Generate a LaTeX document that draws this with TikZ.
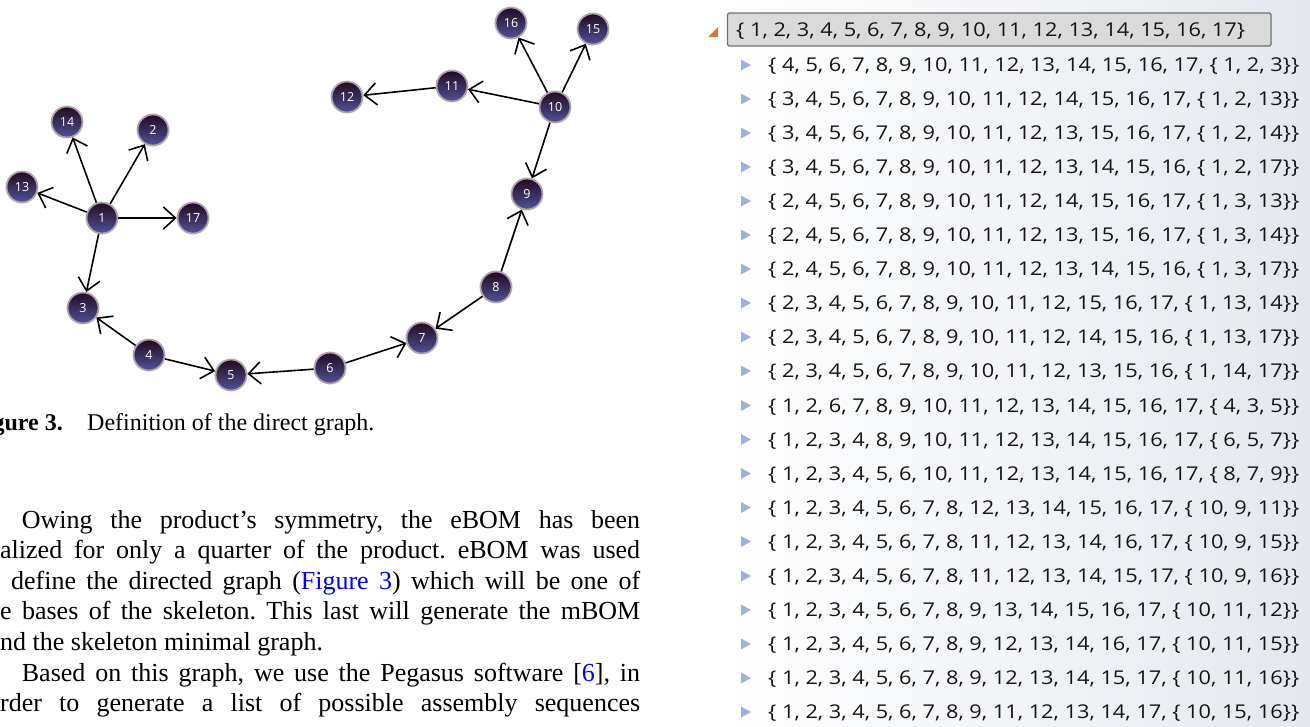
\documentclass[tikz,border=0pt]{standalone}
\usepackage{fontspec}
\setmainfont{Liberation Serif}
\newfontfamily\listfont[FakeStretch=1.145]{Open Sans}
\newfontfamily\nodefont{Open Sans}
\usepackage{tikz}
\usetikzlibrary{arrows.meta,positioning}
\frenchspacing
\definecolor{parttop}{RGB}{34,10,32}
\definecolor{partbot}{RGB}{80,82,152}
\definecolor{partrim}{RGB}{178,164,174}
\definecolor{linkblue}{RGB}{0,0,238}
\definecolor{panelbg}{RGB}{228,232,238}
\definecolor{headfill}{RGB}{218,218,218}
\definecolor{headrim}{RGB}{112,112,112}
\definecolor{rowmark}{RGB}{160,178,220}
\definecolor{openmark}{RGB}{204,120,66}
\definecolor{rowink}{RGB}{20,20,20}
\tikzstyle{part} = [circle,minimum size=31pt,inner sep=0pt,line width=1.8pt,draw=partrim,
  top color=parttop,bottom color=partbot,text=white,font=\nodefont\fontsize{12.5}{12.5}\selectfont]
\tikzstyle{link} = [line width=1.6pt,-{Straight Barb[length=12pt,width=22pt]}]
\tikzstyle{body} = [anchor=base west,inner sep=0pt,font=\fontsize{26}{30}\selectfont]
\tikzstyle{rowtext} = [anchor=base west,inner sep=0pt,text=rowink,font=\listfont\fontsize{19}{19}\selectfont]
\newcommand{\ListRow}[3]% #1=name, #2=row centre y, #3=text
{\fill[rowmark] (741,#2-5.5) -- (751,#2) -- (741,#2+5.5) -- cycle;
 \node[rowtext] (#1) at (768,#2+6.8) {#3};
}

\begin{document}
\begin{tikzpicture}[x=1pt,y=-1pt]

    \useasboundingbox (0,0) rectangle (1310,726);

    % tree panel
    \shade[left color=white,right color=panelbg] (722,0) rectangle (1310,726);

    % the directed graph
    \node[part] (n1) at (102,218) {1};
    \node[part] (n2) at (153,130) {2};
    \node[part] (n3) at (83,308) {3};
    \node[part] (n4) at (149,355) {4};
    \node[part] (n5) at (231,375) {5};
    \node[part] (n6) at (330,368) {6};
    \node[part] (n7) at (422,338) {7};
    \node[part] (n8) at (496,287) {8};
    \node[part] (n9) at (527,194) {9};
    \node[part] (n10) at (555,107) {10};
    \node[part] (n11) at (452,86) {11};
    \node[part] (n12) at (347,97) {12};
    \node[part] (n13) at (22,187) {13};
    \node[part] (n14) at (67,122) {14};
    \node[part] (n15) at (593,29) {15};
    \node[part] (n16) at (511,23) {16};
    \node[part] (n17) at (193,218) {17};

    \draw[link] (n1) -- (n14);
    \draw[link] (n1) -- (n2);
    \draw[link] (n1) -- (n13);
    \draw[link] (n1) -- (n17);
    \draw[link] (n1) -- (n3);
    \draw[link] (n4) -- (n3);
    \draw[link] (n4) -- (n5);
    \draw[link] (n6) -- (n5);
    \draw[link] (n6) -- (n7);
    \draw[link] (n8) -- (n7);
    \draw[link] (n8) -- (n9);
    \draw[link] (n10) -- (n9);
    \draw[link] (n10) -- (n11);
    \draw[link] (n11) -- (n12);
    \draw[link] (n10) -- (n16);
    \draw[link] (n10) -- (n15);

    % caption and text
    \node[anchor=base east,inner sep=0pt,font=\fontsize{24}{28}\selectfont\bfseries] (capno) at (63,430) {igure 3.};
    \node[anchor=base west,inner sep=0pt,font=\fontsize{24}{28}\selectfont] (cap) at (87,430) {Definition of the direct graph.};

    \node[body] (p1) at (21.7,528) {\makebox[618.3pt][s]{Owing the product’s symmetry, the eBOM has been}};
    \node[body] (p2) at (0,558.6) {\makebox[640pt][s]{alized for only a quarter of the product. eBOM was used}};
    \node[body] (p3) at (11,589.2) {\makebox[629pt][s]{define the directed graph (\textcolor{linkblue}{Figure 3}) which will be one of}};
    \node[body] (p4) at (0,619.8) {\makebox[640pt][s]{e bases of the skeleton. This last will generate the mBOM}};
    \node[body] (p5) at (0,650.4) {nd the skeleton minimal graph.};
    \node[body] (p6) at (21.7,681) {\makebox[618.3pt][s]{Based on this graph, we use the Pegasus software [\textcolor{linkblue}{6}], in}};
    \node[body] (p7) at (0,711.6) {\makebox[640pt][s]{rder to generate a list of possible assembly sequences}};

    % assembly sequence list
    \fill[openmark] (708,37) -- (718,37) -- (718,27) -- cycle;
    \draw[headrim,fill=headfill,line width=1.2pt,rounded corners=1.5pt] (727.5,13) rectangle (1271,46);
    \node[rowtext] (top) at (736,36.8) {\{ 1, 2, 3, 4, 5, 6, 7, 8, 9, 10, 11, 12, 13, 14, 15, 16, 17\}};

    \ListRow{r1}{65}{\{ 4, 5, 6, 7, 8, 9, 10, 11, 12, 13, 14, 15, 16, 17, \{ 1, 2, 3\}\}}
    \ListRow{r2}{99}{\{ 3, 4, 5, 6, 7, 8, 9, 10, 11, 12, 14, 15, 16, 17, \{ 1, 2, 13\}\}}
    \ListRow{r3}{133}{\{ 3, 4, 5, 6, 7, 8, 9, 10, 11, 12, 13, 15, 16, 17, \{ 1, 2, 14\}\}}
    \ListRow{r4}{167}{\{ 3, 4, 5, 6, 7, 8, 9, 10, 11, 12, 13, 14, 15, 16, \{ 1, 2, 17\}\}}
    \ListRow{r5}{201}{\{ 2, 4, 5, 6, 7, 8, 9, 10, 11, 12, 14, 15, 16, 17, \{ 1, 3, 13\}\}}
    \ListRow{r6}{235}{\{ 2, 4, 5, 6, 7, 8, 9, 10, 11, 12, 13, 15, 16, 17, \{ 1, 3, 14\}\}}
    \ListRow{r7}{269}{\{ 2, 4, 5, 6, 7, 8, 9, 10, 11, 12, 13, 14, 15, 16, \{ 1, 3, 17\}\}}
    \ListRow{r8}{303}{\{ 2, 3, 4, 5, 6, 7, 8, 9, 10, 11, 12, 15, 16, 17, \{ 1, 13, 14\}\}}
    \ListRow{r9}{337}{\{ 2, 3, 4, 5, 6, 7, 8, 9, 10, 11, 12, 14, 15, 16, \{ 1, 13, 17\}\}}
    \ListRow{r10}{371}{\{ 2, 3, 4, 5, 6, 7, 8, 9, 10, 11, 12, 13, 15, 16, \{ 1, 14, 17\}\}}
    \ListRow{r11}{405.5}{\{ 1, 2, 6, 7, 8, 9, 10, 11, 12, 13, 14, 15, 16, 17, \{ 4, 3, 5\}\}}
    \ListRow{r12}{439.5}{\{ 1, 2, 3, 4, 8, 9, 10, 11, 12, 13, 14, 15, 16, 17, \{ 6, 5, 7\}\}}
    \ListRow{r13}{473.5}{\{ 1, 2, 3, 4, 5, 6, 10, 11, 12, 13, 14, 15, 16, 17, \{ 8, 7, 9\}\}}
    \ListRow{r14}{507.5}{\{ 1, 2, 3, 4, 5, 6, 7, 8, 12, 13, 14, 15, 16, 17, \{ 10, 9, 11\}\}}
    \ListRow{r15}{541.5}{\{ 1, 2, 3, 4, 5, 6, 7, 8, 11, 12, 13, 14, 16, 17, \{ 10, 9, 15\}\}}
    \ListRow{r16}{576}{\{ 1, 2, 3, 4, 5, 6, 7, 8, 11, 12, 13, 14, 15, 17, \{ 10, 9, 16\}\}}
    \ListRow{r17}{610}{\{ 1, 2, 3, 4, 5, 6, 7, 8, 9, 13, 14, 15, 16, 17, \{ 10, 11, 12\}\}}
    \ListRow{r18}{644}{\{ 1, 2, 3, 4, 5, 6, 7, 8, 9, 12, 13, 14, 16, 17, \{ 10, 11, 15\}\}}
    \ListRow{r19}{678}{\{ 1, 2, 3, 4, 5, 6, 7, 8, 9, 12, 13, 14, 15, 17, \{ 10, 11, 16\}\}}
    \ListRow{r20}{712}{\{ 1, 2, 3, 4, 5, 6, 7, 8, 9, 11, 12, 13, 14, 17, \{ 10, 15, 16\}\}}

\end{tikzpicture}
\end{document}
